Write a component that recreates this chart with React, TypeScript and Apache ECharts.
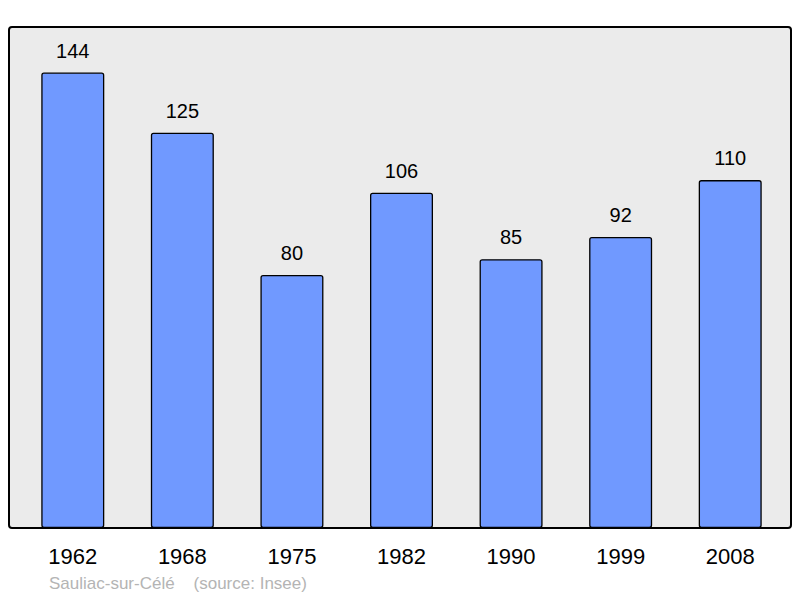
import React, { useEffect, useRef } from "react";
import * as echarts from "echarts";

const years = ["1962", "1968", "1975", "1982", "1990", "1999", "2008"];
const population = [144, 125, 80, 106, 85, 92, 110];
const footer = "Sauliac-sur-Célé    (source: Insee)";

export default function App() {
  const ref = useRef<HTMLDivElement>(null);
  useEffect(() => {
    document.body.style.margin = "0";
    const chart = echarts.init(ref.current!, null, { renderer: "svg" });
    chart.setOption({
      animation: false,
      backgroundColor: "#ffffff",
      textStyle: { fontFamily: "Liberation Sans, Arial, sans-serif" },
      graphic: [
        {
          type: "rect",
          z: -10,
          shape: { x: 9, y: 27, width: 782, height: 501, r: 3 },
          style: { fill: "#ebebeb", stroke: "#000", lineWidth: 2 },
          silent: true,
        },
        {
          type: "text",
          left: 49,
          top: 575,
          style: {
            text: footer,
            fill: "#b4b4b4",
            font: "17px Liberation Sans, Arial, sans-serif",
          },
        },
      ],
      grid: { left: 18, right: 15, top: 27, bottom: 70 },
      xAxis: {
        type: "category",
        data: years,
        axisLine: { show: false },
        axisTick: { show: false },
        axisLabel: {
          color: "#000",
          fontSize: 22,
          margin: 17,
          fontFamily: "Liberation Sans, Arial, sans-serif",
        },
      },
      yAxis: {
        type: "value",
        min: 0,
        max: 158.4,
        show: false,
        splitLine: { show: false },
      },
      series: [
        {
          type: "bar",
          data: population,
          barWidth: 63,
          itemStyle: {
            color: "#7099ff",
            borderColor: "#000",
            borderWidth: 1.3,
            borderRadius: 2,
          },
          label: {
            show: true,
            position: "top",
            distance: 12,
            color: "#000",
            fontSize: 20,
            fontFamily: "Liberation Sans, Arial, sans-serif",
          },
        },
      ],
    });
    return () => chart.dispose();
  }, []);
  return (
    <div
      ref={ref}
      style={{ position: "absolute", left: 0, top: 0, width: 800, height: 598 }}
    />
  );
}
